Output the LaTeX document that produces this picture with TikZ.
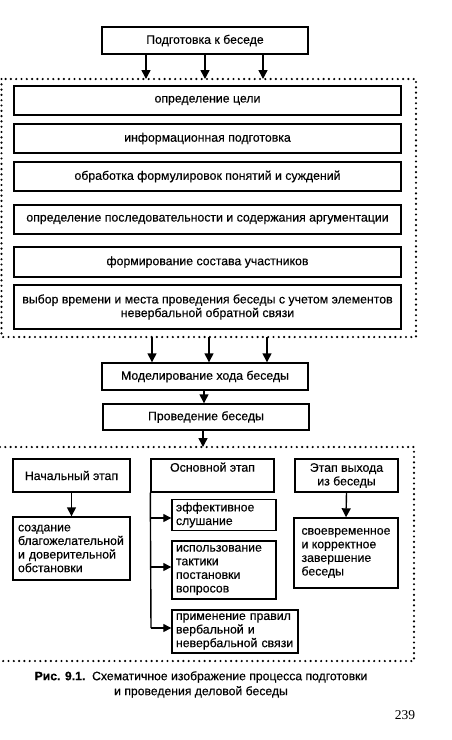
\documentclass[tikz,border=0pt]{standalone}
\usepackage{fontspec}
\setmainfont{Liberation Sans}[FakeBold=0.35]
\newfontfamily\pagefont{Liberation Serif}
\usetikzlibrary{arrows.meta}
\begin{document}
\begin{tikzpicture}[x=1pt,y=-1pt,
  frame/.style={draw, line width=1.4pt, inner sep=3pt, font=\fontsize{12.3}{13.6}\selectfont},
  leftbox/.style={frame, align=left, inner xsep=4pt, text width=#1},
  dots/.style={line width=2.4pt, line cap=round, dash pattern=on 0pt off 5.3pt},
  arr/.style={-{Triangle[length=9pt,width=9pt]}, line width=1.4pt},
  sarr/.style={-{Triangle[length=8pt,width=8pt]}, line width=1.3pt}]
\useasboundingbox (0,0) rectangle (452,740);

% upper part
\node[frame, minimum width=206pt, minimum height=27pt] (top) at (205,40.5) {Подготовка к беседе};
\draw[dots] (1.5,79) rectangle (416,337);
\node[frame, minimum width=387pt, minimum height=29pt] (b1) at (207.5,100.5) {определение цели};
\node[frame, minimum width=387pt, minimum height=29pt] (b2) at (207.5,138.5) {информационная подготовка};
\node[frame, minimum width=387pt, minimum height=29pt] (b3) at (207.5,176.5) {обработка формулировок понятий и суждений};
\node[frame, minimum width=387pt, minimum height=29pt] (b4) at (207.5,219.5) {определение последовательности и содержания аргументации};
\node[frame, minimum width=387pt, minimum height=30pt] (b5) at (207.5,262) {формирование состава участников};
\node[frame, minimum width=387pt, minimum height=44pt, align=center] (b6) at (207.5,307) {выбор времени и места проведения беседы с учетом элементов\\невербальной обратной связи};

\coordinate (u1) at (146,79);
\coordinate (u2) at (205,79);
\coordinate (u3) at (263,79);
\draw[arr] (top.south -| u1) -- (u1);
\draw[arr] (top.south -| u2) -- (u2);
\draw[arr] (top.south -| u3) -- (u3);

\node[frame, minimum width=206pt, minimum height=27pt] (model) at (205,376.5) {Моделирование хода беседы};
\node[frame, minimum width=206pt, minimum height=26pt] (prov) at (206,417) {Проведение беседы};

\coordinate (m1) at (152,337);
\coordinate (m2) at (209,337);
\coordinate (m3) at (267,337);
\draw[arr] (m1) -- (m1 |- model.north);
\draw[arr] (m2) -- (m2 |- model.north);
\draw[arr] (m3) -- (m3 |- model.north);
\draw[arr] (model.south -| 204,0) -- (prov.north -| 204,0);
\coordinate (p1) at (203,447);
\draw[arr] (prov.south -| p1) -- (p1);

% lower part
\draw[dots] (0,447) -- (414,447) -- (414,661) -- (0,661);

\node[frame, minimum width=117pt, minimum height=33pt] (nach) at (71.5,475.5) {Начальный этап};
\node[leftbox=107pt, inner xsep=5pt, minimum height=63pt] (sozd) at (71.5,548.5) {создание\\благожелательной\\и доверительной\\обстановки};
\draw[arr] (nach.south) -- (sozd.north);

\node[frame, minimum width=123pt, minimum height=33pt,
  label={[anchor=north, inner sep=4pt, font=\fontsize{12.3}{13.6}\selectfont]north:Основной этап}] (osn) at (212.5,475.5) {};
\node[leftbox=96pt, minimum height=30pt] (s1) at (224,515) {эффективное\\слушание};
\node[leftbox=96pt, minimum height=58pt] (s2) at (224,570) {использование\\тактики\\постановки\\вопросов};
\node[leftbox=118pt, minimum height=43pt] (s3) at (235,631.5) {применение правил\\вербальной и\\невербальной связи};
\coordinate (j1) at (151,518);
\coordinate (j2) at (151,567);
\coordinate (j3) at (151,628);
\draw[line width=1.4pt] (osn.south west) -- (j3);
\draw[sarr] (j1) -- (j1 -| s1.west);
\draw[sarr] (j2) -- (j2 -| s2.west);
\draw[sarr] (j3) -- (j3 -| s3.west);

\node[frame, minimum width=103pt, minimum height=33pt, align=center] (exit) at (346.5,475.5) {Этап выхода\\из беседы};
\node[frame, minimum width=104pt, minimum height=70pt, align=left] (svoe) at (346,553) {своевременное\\и корректное\\завершение\\беседы};
\draw[arr] (exit.south) -- (svoe.north);

% caption
\node[align=center, font=\fontsize{12.2}{15}\selectfont] (cap) at (201,684.5) {\textbf{Рис. 9.1.}\ \ Схематичное изображение процесса подготовки\\и проведения деловой беседы};
\node[font=\pagefont\fontsize{13.5}{15}\selectfont] (pg) at (405,715) {239};
\end{tikzpicture}
\end{document}
